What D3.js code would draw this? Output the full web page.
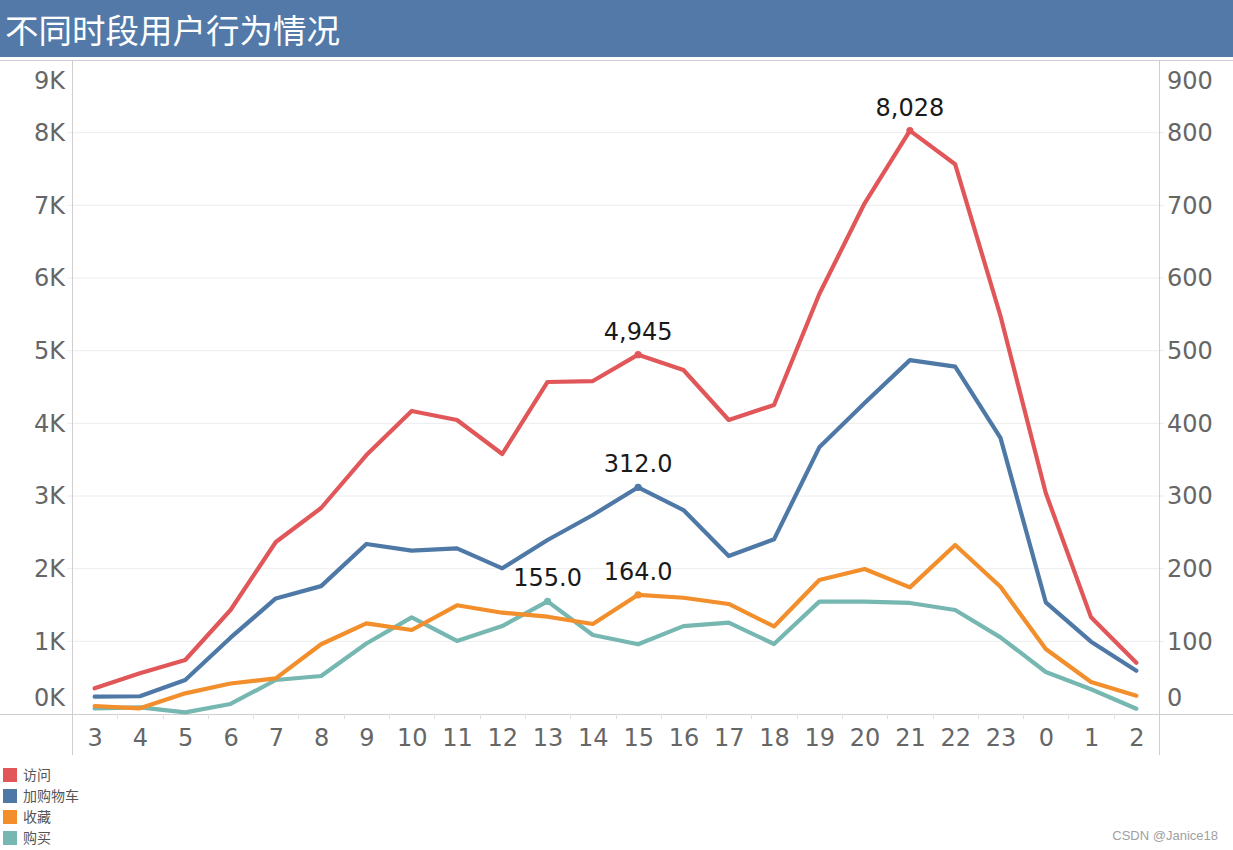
<!DOCTYPE html>
<html>
<head>
<meta charset="utf-8">
<script src="https://cdn.jsdelivr.net/npm/d3@7"></script>
<style>
  html, body { margin: 0; padding: 0; background: #fff; }
  svg { display: block; }
</style>
</head>
<body>
<svg id="chart" width="1233" height="850"></svg>
<script>
const title = "不同时段用户行为情况";
const hours = ["3","4","5","6","7","8","9","10","11","12","13","14","15","16","17","18","19","20","21","22","23","0","1","2"];
// 访问 (left axis)
const visits = [354,560,743,1431,2367,2835,3564,4170,4046,3578,4569,4582,4945,4734,4046,4252,5780,7028,8028,7565,5477,3041,1330,706];
// 加购物车 (right axis)
const cart = [23.8,24.4,46.8,105,159,176,234,224.8,228,200.5,239.4,273.9,312,280.7,217.4,240.4,367,428,487,478,380,153.7,99.5,59.6];
// 收藏 (right axis)
const fav = [11,7.8,28.4,42,49,96,124.8,115.6,149.6,139.4,133.9,123.9,164,160,151.4,120.5,184.4,199.5,174.3,232.6,175.2,89.4,44,25.2];
// 购买 (right axis)
const buy = [7.8,9.2,2.3,13.8,46.8,52.3,97,133,100.5,121,155,108.7,95.9,121,125.7,96.3,154.6,154.6,152.8,143.1,105.5,57.8,34,7.3];
const seriesNames = ["访问","加购物车","收藏","购买"];
const seriesColors = ["#e15759","#4e79a7","#f28e2b","#76b7b2"];
const leftTicks = [0,1000,2000,3000,4000,5000,6000,7000,8000,9000];
const rightTicks = [0,100,200,300,400,500,600,700,800,900];
// labelled points: [series index, category]
const labelled = [[0,"15"],[0,"21"],[1,"15"],[2,"15"],[3,"13"]];

const svg = d3.select("#chart");
const W = 1233;
const plotL = 72, plotR = 1159, plotT = 60, plotB = 714;
const font = "'DejaVu Sans', sans-serif";
const cjk = "'Noto Sans CJK SC', 'Noto Sans', sans-serif";

const x = d3.scalePoint().domain(hours).range([plotL, plotR]).padding(0.5);
const yL = d3.scaleLinear().domain([0, 9000]).range([plotB, plotT]);
const yR = d3.scaleLinear().domain([0, 900]).range([plotB, plotT]);

// Title bar
svg.append("rect").attr("x",0).attr("y",0).attr("width",W).attr("height",57).attr("fill","#5279a8");
svg.append("text").attr("x",5).attr("y",43).attr("fill","#fff")
  .attr("font-family",cjk).attr("font-size",33.5).text(title);

// gridlines
const grid = svg.append("g");
grid.selectAll("line").data(leftTicks.slice(1,-1)).join("line")
  .attr("x1", plotL-5).attr("x2", plotR+5)
  .attr("y1", d=>yL(d)).attr("y2", d=>yL(d))
  .attr("stroke","#ececec").attr("stroke-width",1);

// frame lines
svg.append("line").attr("x1",0).attr("x2",W).attr("y1",plotT+0.5).attr("y2",plotT+0.5).attr("stroke","#cfcfcf");
svg.append("line").attr("x1",0).attr("x2",W).attr("y1",plotB+0.5).attr("y2",plotB+0.5).attr("stroke","#cfcfcf");
svg.append("line").attr("x1",plotL+0.5).attr("x2",plotL+0.5).attr("y1",plotT).attr("y2",755).attr("stroke","#cfcfcf");
svg.append("line").attr("x1",plotR+0.5).attr("x2",plotR+0.5).attr("y1",plotT).attr("y2",755).attr("stroke","#cfcfcf");

// x-axis tick marks between categories
const step = x.step();
svg.append("g").selectAll("line").data(hours.slice(1)).join("line")
  .attr("x1", d=>Math.round(x(d)-step/2)+0.5).attr("x2", d=>Math.round(x(d)-step/2)+0.5)
  .attr("y1", plotB).attr("y2", plotB+5).attr("stroke","#e0e0e0");

// Left axis
const axL = svg.append("g").attr("transform",`translate(${plotL-7},0)`)
  .call(d3.axisLeft(yL).tickValues(leftTicks).tickSize(0).tickPadding(0).tickFormat(d=>(d/1000)+"K"));
axL.select(".domain").remove();
axL.selectAll("text").attr("font-family",font).attr("font-size",24).attr("fill","#666")
  .attr("dy", d => d===0 ? "-0.35em" : d===9000 ? "1.2em" : "0.32em");

// Right axis
const axR = svg.append("g").attr("transform",`translate(${plotR+8},0)`)
  .call(d3.axisRight(yR).tickValues(rightTicks).tickSize(0).tickPadding(0));
axR.select(".domain").remove();
axR.selectAll("text").attr("font-family",font).attr("font-size",24).attr("fill","#666")
  .attr("dy", d => d===0 ? "-0.35em" : d===900 ? "1.2em" : "0.32em");

// X axis
const axX = svg.append("g").attr("transform",`translate(0,${plotB+10})`)
  .call(d3.axisBottom(x).tickSize(0).tickPadding(0));
axX.select(".domain").remove();
axX.selectAll("text").attr("font-family",font).attr("font-size",24).attr("fill","#666").attr("dy","0.9em");

// Lines
const data = [
  {vals: visits, y: yL},
  {vals: cart, y: yR},
  {vals: fav, y: yR},
  {vals: buy, y: yR}
];
const drawOrder = [3,2,1,0];
const lg = svg.append("g");
drawOrder.forEach(i => {
  const s = data[i];
  const line = d3.line().x((d,j)=>x(hours[j])).y(d=>s.y(d));
  lg.append("path").attr("d", line(s.vals)).attr("fill","none")
    .attr("stroke", seriesColors[i]).attr("stroke-width",4.2)
    .attr("stroke-linejoin","round").attr("stroke-linecap","round");
});

// Labelled points
const fmtK = d3.format(",");
const fmt1 = d3.format(".1f");
labelled.forEach(([i, h]) => {
  const s = data[i];
  const v = s.vals[hours.indexOf(h)];
  const px = x(h), py = s.y(v);
  svg.append("circle").attr("cx",px).attr("cy",py).attr("r",3.6).attr("fill",seriesColors[i]);
  svg.append("text").attr("x",px).attr("y",py-15).attr("text-anchor","middle")
    .attr("font-family",font).attr("font-size",24).attr("fill","#1a1a1a")
    .text(i===0 ? fmtK(v) : fmt1(v));
});

// Legend
const leg = svg.append("g");
seriesNames.forEach((n,i) => {
  const yy = 768 + i*21;
  leg.append("rect").attr("x",3).attr("y",yy).attr("width",14).attr("height",14).attr("fill",seriesColors[i]);
  leg.append("text").attr("x",23).attr("y",yy+12).attr("font-family",cjk).attr("font-size",14)
    .attr("fill","#555").text(n);
});

// Watermark
svg.append("text").attr("x",1218).attr("y",840).attr("text-anchor","end")
  .attr("font-family","'Liberation Sans', Arial, sans-serif").attr("font-size",13)
  .attr("fill","#a0a0a0").text("CSDN @Janice18");
</script>
</body>
</html>
